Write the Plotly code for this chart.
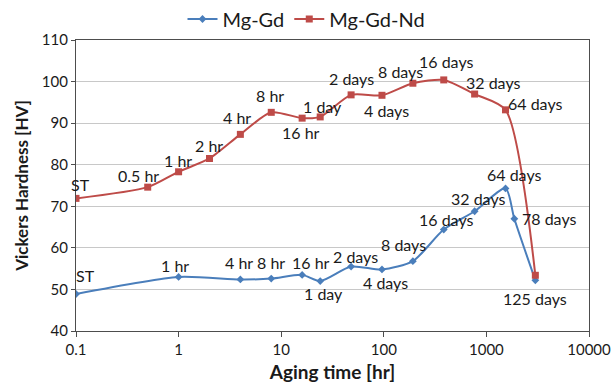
import numpy as np
import plotly.graph_objects as go

# ---- data ----
gdnd_x = [0.1, 0.5, 1, 2, 4, 8, 16, 24, 48, 96, 192, 384, 768, 1536, 3000]
gdnd_y = [71.9, 74.6, 78.3, 81.5, 87.3, 92.6, 91.2, 91.5, 96.8, 96.7, 99.6, 100.4, 97.0, 93.2, 53.4]
gdnd_lbl = ["ST", "0.5 hr", "1 hr", "2 hr", "4 hr", "8 hr", "16 hr", "1 day", "2 days",
            "4 days", "8 days", "16 days", "32 days", "64 days", ""]

gd_x = [0.1, 1, 4, 8, 16, 24, 48, 96, 192, 384, 768, 1536, 1872, 3000]
gd_y = [48.9, 53.0, 52.4, 52.6, 53.5, 52.0, 55.5, 54.8, 56.8, 64.4, 68.8, 74.3, 67.0, 52.2]
gd_lbl = ["ST", "1 hr", "4 hr", "8 hr", "16 hr", "1 day", "2 days", "4 days", "8 days",
          "16 days", "32 days", "64 days", "78 days", "125 days"]

x_tickvals = [0.1, 1, 10, 100, 1000, 10000]
x_ticktext = ["0.1", "1", "10", "100", "1000", "10000"]

# label offsets in pixels (style)
gdnd_off = [(4, -14), (-9, -12), (-1, -11), (0, -13), (-3, -17), (-1, -17), (-1, 14), (2, -10),
            (0, -16), (5, 15), (-12, -12), (2, -18), (18, -12), (29, -6), (0, 0)]
gd_off = [(9, -19), (-4, -11), (-1, -17), (0, -16), (9, -12), (3, 12), (4, -10), (4, 13),
          (-9, -17), (2, -10), (3, -13), (8, -14), (35, 0), (0, 18)]

BLUE = "#4A7EBB"
RED = "#BE4B48"
FONT = "Lato"

fig = go.Figure()
fig.add_trace(go.Scatter(
    x=gd_x, y=gd_y, name="Mg-Gd", mode="lines+markers",
    line=dict(color=BLUE, width=2, shape="spline", smoothing=0.7),
    marker=dict(symbol="diamond", size=6, color=BLUE)))
fig.add_trace(go.Scatter(
    x=gdnd_x, y=gdnd_y, name="Mg-Gd-Nd", mode="lines+markers",
    line=dict(color=RED, width=2, shape="spline", smoothing=0.7),
    marker=dict(symbol="square", size=7, color=RED)))

annots = []
for xs, ys, ls, offs in [(gdnd_x, gdnd_y, gdnd_lbl, gdnd_off), (gd_x, gd_y, gd_lbl, gd_off)]:
    for xv, yv, t, (dx, dy) in zip(xs, ys, ls, offs):
        if not t:
            continue
        annots.append(dict(x=np.log10(xv), y=yv, text=t, showarrow=False,
                           xshift=dx, yshift=-dy,
                           font=dict(family=FONT, size=16, color="#1a1a1a")))

fig.update_layout(
    width=613, height=389,
    margin=dict(l=76, r=24, t=40, b=58, autoexpand=False),
    paper_bgcolor="white", plot_bgcolor="white",
    font=dict(family=FONT, color="#1a1a1a"),
    annotations=annots,
    showlegend=True,
    legend=dict(orientation="h", x=0.5, xref="container", xanchor="center",
                y=1 - 19 / 389, yref="container", yanchor="middle",
                font=dict(family=FONT, size=20, color="#1a1a1a"),
                bgcolor="rgba(0,0,0,0)", itemwidth=30, tracegroupgap=0),
    xaxis=dict(type="log", range=[-1, 4], tickvals=x_tickvals, ticktext=x_ticktext,
               showgrid=False, zeroline=False, automargin=False,
               showline=True, linecolor="#4d4d4d", linewidth=1.3, mirror=True,
               ticks="outside", ticklen=5, tickcolor="#4d4d4d",
               tickfont=dict(family=FONT, size=15, color="#1a1a1a"),
               title=dict(text="<b>Aging time [hr]</b>", standoff=8,
                          font=dict(family=FONT, size=19, color="#1a1a1a"))),
    yaxis=dict(range=[40, 110], dtick=10, showgrid=True, gridcolor="#c8c8c8", gridwidth=1,
               zeroline=False, automargin=False,
               showline=True, linecolor="#4d4d4d", linewidth=1.3, mirror=True,
               ticks="outside", ticklen=4, tickcolor="#4d4d4d",
               tickfont=dict(family=FONT, size=15, color="#1a1a1a"),
               title=dict(text="<b>Vickers Hardness [HV]</b>", standoff=8,
                          font=dict(family=FONT, size=17, color="#1a1a1a"))),
)

fig.write_html("out.html")
